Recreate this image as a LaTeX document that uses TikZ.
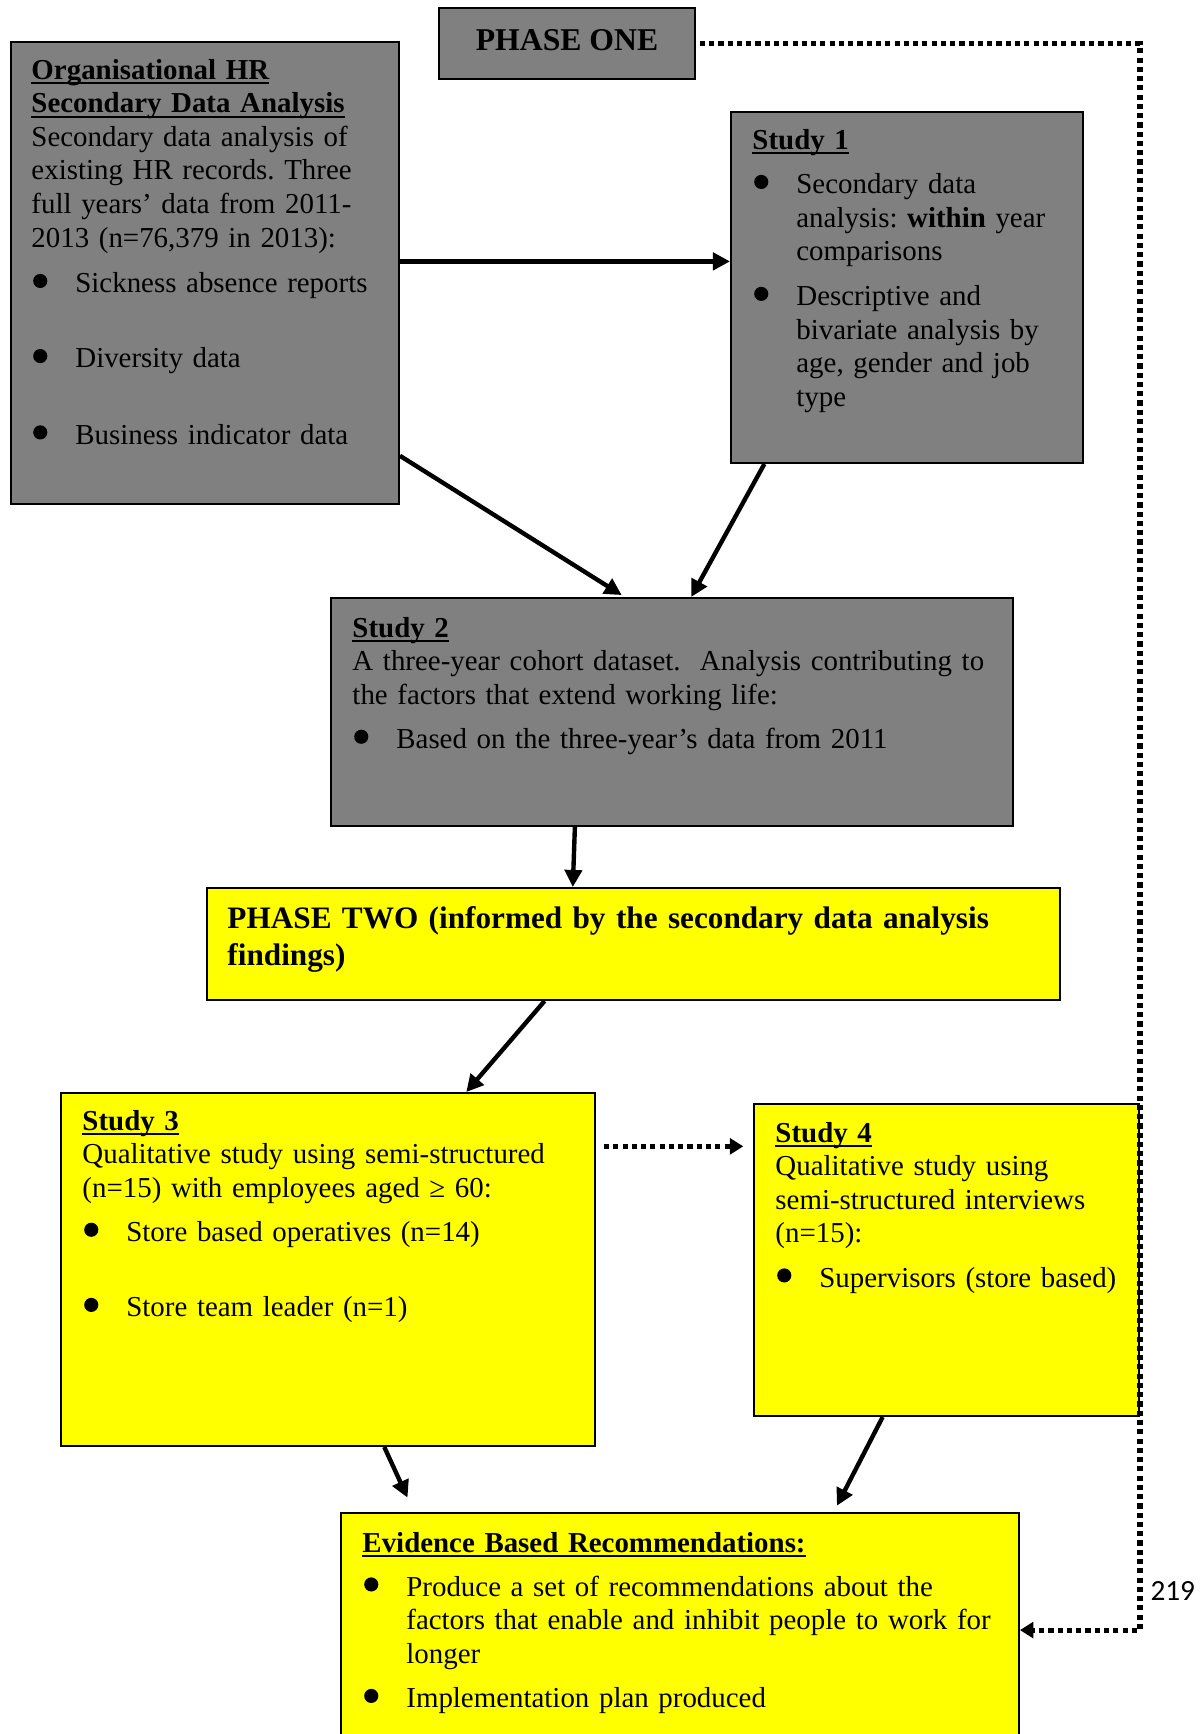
\documentclass[tikz,border=0pt]{standalone}
\usepackage{fontspec}
\setmainfont{Liberation Serif}
\newfontfamily\calibri{Carlito}
\usepackage{xcolor}
\usepackage{tikz}
\usetikzlibrary{arrows.meta,calc,fit}
\definecolor{boxgray}{HTML}{808080}
\definecolor{boxyellow}{HTML}{FFFF00}
\frenchspacing
\newsavebox{\hdbox}
\newcommand{\hd}[1]{\leavevmode\sbox{\hdbox}{\textbf{#1}}\rlap{\rule[-2.2pt]{\wd\hdbox}{0.8pt}}\usebox{\hdbox}}
\newcommand{\bul}{\makebox[18pt][l]{\hspace{0.7pt}\tikz[baseline=0pt]\fill (2.9pt,4.8pt) circle[radius=2.9pt];}}
\newcommand{\ind}{\hspace*{18pt}}
\tikzset{
	blk/.style={draw, line width=0.8pt, inner sep=0pt},
	gry/.style={blk, fill=boxgray},
	ylw/.style={blk, fill=boxyellow},
	txt/.style={anchor=base west, align=left, text width=#1, inner sep=0pt,
		font=\fontsize{11.85pt}{13.8pt}\selectfont},
	arr/.style={line width=1.8pt, -{Triangle[length=7pt,width=7pt]}},
	dotl/.style={line width=2.1pt, dash pattern=on 2.1pt off 1.7pt},
	dotarr/.style={dotl, -{Triangle[length=5.5pt,width=6.5pt]}},
}

\begin{document}
\begin{tikzpicture}[x=0.41pt, y=-0.41pt]
	\useasboundingbox (0,0) rectangle (1200,1734);
	% phase one
	\node[gry, fit={(439,8) (695,79)}] (p1) {};
	\node[anchor=base, inner sep=0pt, font=\fontsize{13pt}{15pt}\selectfont\bfseries] at (567,50) (p1txt) {PHASE ONE};
	\node[gry, fit={(11,42) (399,504)}] (hr) {};
	\node[gry, fit={(731,112) (1083,463)}] (s1) {};
	\node[gry, fit={(331,598) (1013,826)}] (s2) {};
	\node[txt=165pt] at (31,79) (hrtxt) {\hd{Organisational HR}\\ \hd{Secondary Data Analysis}\\ Secondary data analysis of\\ existing HR records. Three\\ full years’ data from 2011-\\ 2013 (n=76,379 in 2013):\\[4.8pt] \bul Sickness absence reports\\[17pt] \bul Diversity data\\[17.5pt] \bul Business indicator data};
	\node[txt=140pt] at (752,149) (s1txt) {\hd{Study 1}\\[4.5pt] \bul Secondary data\\ \ind analysis: \textbf{within} year\\ \ind comparisons\\[4.5pt] \bul Descriptive and\\ \ind bivariate analysis by\\ \ind age, gender and job\\ \ind type};
	\node[txt=275pt] at (352,637) (s2txt) {\hd{Study 2}\\ A three-year cohort dataset.\ \ Analysis contributing to\\ the factors that extend working life:\\[4.3pt] \bul Based on the three-year’s data from 2011};
	% phase two
	\node[ylw, fit={(207,888) (1060,1000)}] (p2) {};
	\node[ylw, fit={(61,1093) (595,1446)}] (s3) {};
	\node[ylw, fit={(754,1104) (1139,1416)}] (s4) {};
	\node[ylw, fit={(341,1513) (1019,1760)}] (ev) {};
	\node[txt=345pt, font=\fontsize{12.8pt}{15.2pt}\selectfont\bfseries] at (227,928) (p2txt) {PHASE TWO (informed by the secondary data analysis\\ findings)};
	\node[txt=215pt] at (82,1130) (s3txt) {\hd{Study 3}\\ Qualitative study using semi-structured\\ (n=15) with employees aged ≥ 60:\\[4.3pt] \bul Store based operatives (n=14)\\[17pt] \bul Store team leader (n=1)};
	\node[txt=150pt] at (775,1142) (s4txt) {\hd{Study 4}\\ Qualitative study using\\ semi-structured interviews\\ (n=15):\\[4.3pt] \bul Supervisors (store based)};
	\node[txt=270pt] at (362,1552) (evtxt) {\hd{Evidence Based Recommendations:}\\[4.3pt] \bul Produce a set of recommendations about the\\ \ind factors that enable and inhibit people to work for\\ \ind longer\\[4.3pt] \bul Implementation plan produced};
	\node[anchor=base west, inner sep=0pt, font=\calibri\fontsize{12pt}{14pt}\selectfont] at (1150,1600) (pg) {219};
	% connectors
	\draw[arr] ($(hr.north east)!0.475!(hr.south east)$) coordinate (a1) -- (a1 -| s1.west);
	\draw[arr, shorten >=1.5pt] ($(hr.north east)!0.894!(hr.south east)$) -- ($(s2.north west)!0.431!(s2.north east)$);
	\draw[arr] ($(s1.south west)!0.097!(s1.south east)$) -- ($(s2.north west)!0.528!(s2.north east)$);
	\draw[arr] ($(s2.south west)!0.358!(s2.south east)$) -- ($(p2.north west)!0.429!(p2.north east)$);
	\draw[arr] ($(p2.south west)!0.396!(p2.south east)$) -- ($(s3.north west)!0.758!(s3.north east)$);
	\draw[arr, shorten >=6.5pt] ($(s3.south west)!0.605!(s3.south east)$) -- ($(ev.north west)!0.109!(ev.north east)$);
	\draw[arr, shorten >=2.9pt] ($(s4.south west)!0.335!(s4.south east)$) -- ($(ev.north west)!0.726!(ev.north east)$);
	\draw[dotarr, shorten <=3.3pt, shorten >=4pt] ($(s3.north east)!0.153!(s3.south east)$) coordinate (a6) -- (a6 -| s4.west);
	\coordinate (fb) at ([yshift=-48.4pt]ev.north east);
	\draw[dotarr, shorten <=1.6pt] (p1.east) -- (p1.east -| s4.east) -- (s4.east |- fb) -- (fb);
\end{tikzpicture}
\end{document}
